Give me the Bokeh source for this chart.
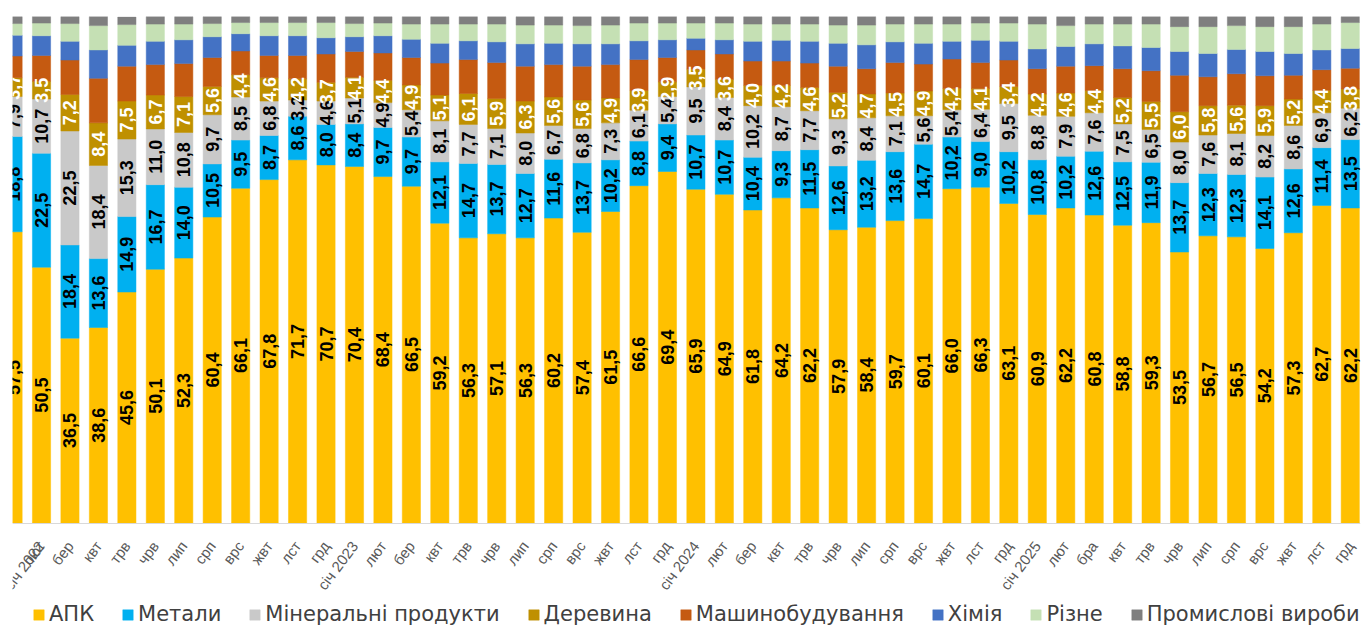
import math
from bokeh.plotting import figure
from bokeh.models import ColumnDataSource, FixedTicker, Legend, LegendItem, Range1d
from bokeh.core.properties import value
from bokeh.embed import file_html
from bokeh.resources import INLINE

months = ["січ 2022", "лют", "бер", "квт", "трв", "чрв", "лип", "срп", "врс", "жвт", "лст", "грд",
          "січ 2023", "лют", "бер", "квт", "трв", "чрв", "лип", "срп", "врс", "жвт", "лст", "грд",
          "січ 2024", "лют", "бер", "квт", "трв", "чрв", "лип", "срп", "врс", "жвт", "лст", "грд",
          "січ 2025", "лют", "бра", "квт", "трв", "чрв", "лип", "срп", "врс", "жвт", "лст", "грд"]

apk = [57.5, 50.5, 36.5, 38.6, 45.6, 50.1, 52.3, 60.4, 66.1, 67.8, 71.7, 70.7,
       70.4, 68.4, 66.5, 59.2, 56.3, 57.1, 56.3, 60.2, 57.4, 61.5, 66.6, 69.4,
       65.9, 64.9, 61.8, 64.2, 62.2, 57.9, 58.4, 59.7, 60.1, 66.0, 66.3, 63.1,
       60.9, 62.2, 60.8, 58.8, 59.3, 53.5, 56.7, 56.5, 54.2, 57.3, 62.7, 62.2]
metals = [18.8, 22.5, 18.4, 13.6, 14.9, 16.7, 14.0, 10.5, 9.5, 8.7, 8.6, 8.0,
          8.4, 9.7, 9.7, 12.1, 14.7, 13.7, 12.7, 11.6, 13.7, 10.2, 8.8, 9.4,
          10.7, 10.7, 10.4, 9.3, 11.5, 12.6, 13.2, 13.6, 14.7, 10.2, 9.0, 10.2,
          10.8, 10.2, 12.6, 12.5, 11.9, 13.7, 12.3, 12.3, 14.1, 12.6, 11.4, 13.5]
minerals = [7.9, 10.7, 22.5, 18.4, 15.3, 11.0, 10.8, 9.7, 8.5, 6.8, 3.2, 4.6,
            5.1, 4.9, 5.4, 8.1, 7.7, 7.1, 8.0, 6.7, 6.8, 7.3, 6.1, 5.4,
            9.5, 8.4, 10.2, 8.7, 7.7, 9.3, 8.4, 7.1, 5.6, 5.4, 6.4, 9.5,
            8.8, 7.9, 7.6, 7.5, 6.5, 8.0, 7.6, 8.1, 8.2, 8.6, 6.9, 6.2]
wood = [3.7, 3.5, 7.2, 8.4, 7.5, 6.7, 7.1, 5.6, 4.4, 4.6, 4.2, 3.7,
        4.1, 4.4, 4.9, 5.1, 6.1, 5.9, 6.3, 5.6, 5.6, 4.9, 3.9, 2.9,
        3.5, 3.6, 4.0, 4.2, 4.6, 5.2, 4.7, 4.5, 4.9, 4.2, 4.1, 3.4,
        4.2, 4.6, 4.4, 5.2, 5.5, 6.0, 5.8, 5.6, 5.9, 5.2, 4.4, 3.8]
machinery = [4.3, 5.1, 6.8, 8.8, 6.9, 6.0, 6.5, 5.7, 4.7, 4.4, 4.6, 5.6,
             5.1, 5.4, 5.4, 6.3, 6.7, 7.1, 6.9, 6.4, 6.7, 6.6, 6.1, 4.8,
             3.8, 5.0, 4.8, 4.8, 4.8, 5.2, 5.0, 6.0, 5.3, 5.8, 5.1, 5.2,
             5.0, 5.3, 4.9, 5.7, 6.1, 7.2, 5.7, 6.2, 5.9, 4.7, 4.1, 4.1]
chemistry = [4.1, 3.9, 3.7, 5.6, 4.1, 4.6, 4.7, 4.1, 3.4, 3.9, 3.9, 3.2,
             2.9, 3.4, 3.6, 3.9, 3.7, 4.1, 4.4, 4.2, 4.4, 4.1, 3.7, 3.5,
             2.3, 2.8, 3.9, 4.1, 4.3, 4.5, 4.7, 4.1, 4.1, 3.5, 4.4, 3.7,
             3.9, 3.9, 4.3, 4.5, 4.6, 4.7, 4.6, 4.8, 4.8, 4.3, 3.9, 3.9]
misc = [2.3, 2.5, 3.5, 4.8, 4.1, 3.4, 3.1, 2.6, 2.2, 2.6, 2.6, 3.0,
        2.6, 2.5, 3.0, 3.8, 3.3, 3.5, 3.7, 3.6, 3.6, 3.7, 3.5, 3.3,
        3.0, 3.3, 3.4, 3.2, 3.4, 3.6, 3.9, 3.5, 3.8, 3.4, 3.4, 3.6,
        4.9, 4.1, 3.9, 4.3, 4.6, 4.9, 5.3, 4.7, 4.9, 5.3, 5.1, 5.1]
industrial = [1.4, 1.3, 1.4, 1.8, 1.5, 1.5, 1.5, 1.4, 1.2, 1.2, 1.2, 1.2,
              1.4, 1.3, 1.5, 1.5, 1.5, 1.5, 1.7, 1.7, 1.8, 1.7, 1.3, 1.3,
              1.3, 1.3, 1.5, 1.5, 1.5, 1.7, 1.7, 1.5, 1.5, 1.5, 1.3, 1.3,
              1.5, 1.8, 1.5, 1.5, 1.5, 2.0, 2.0, 1.8, 2.0, 2.0, 1.5, 1.2]

series_names = ["АПК", "Метали", "Мінеральні продукти", "Деревина", "Машинобудування",
                "Хімія", "Різне", "Промислові вироби"]
series_colors = ["#FFC000", "#00B0F0", "#C9C9C9", "#BF9000", "#C55A11",
                 "#4472C4", "#C5E0B4", "#7F7F7F"]
series_values = [apk, metals, minerals, wood, machinery, chemistry, misc, industrial]
label_colors = ["#000000", "#000000", "#000000", "#FFFFFF"]

xs = list(range(len(months)))
keys = ["s%d" % i for i in range(len(series_values))]
data = {"x": xs}
for k, vals in zip(keys, series_values):
    data[k] = vals
src = ColumnDataSource(data)

p = figure(width=1368, height=627, x_range=Range1d(-0.02, 47.36), y_range=Range1d(-20.63, 100),
           output_backend="svg", toolbar_location=None,
           min_border_left=12, min_border_right=8, min_border_top=16, min_border_bottom=0)
p.outline_line_color = None
p.grid.visible = False
p.yaxis.visible = False

renderers = p.vbar_stack(keys, x="x", width=0.64, source=src,
                         fill_color=series_colors, line_color=series_colors, line_width=0.5)

# data labels for first four series
for si in range(4):
    lx, ly, lt = [], [], []
    for i in range(len(months)):
        base = sum(series_values[j][i] for j in range(si))
        v = series_values[si][i]
        lx.append(i)
        ly.append(base + v / 2.0)
        lt.append(("%.1f" % v).replace(".", ","))
    lsrc = ColumnDataSource(dict(x=lx, y=ly, t=lt))
    p.text(x="x", y="y", text="t", source=lsrc, angle=math.pi / 2,
           text_align="center", text_baseline="middle",
           text_font=value("Liberation Sans"), text_font_style="bold",
           text_font_size="18px", text_color=label_colors[si])

ax = p.xaxis[0]
ax.fixed_location = 0
ax.ticker = FixedTicker(ticks=xs)
ax.major_label_overrides = {i: m for i, m in zip(xs, months)}
ax.major_label_orientation = 0.93
ax.major_tick_line_color = None
ax.minor_tick_line_color = None
ax.axis_line_color = "#D9D9D9"
ax.major_label_text_font = "Liberation Sans"
ax.major_label_text_font_size = "15px"
ax.major_label_text_color = "#595959"
ax.major_label_standoff = 14

legend = Legend(items=[LegendItem(label=n, renderers=[r]) for n, r in zip(series_names, renderers)],
                orientation="horizontal", location=(20, 1),
                label_text_font="DejaVu Sans", label_text_font_size="21px",
                label_text_color="#404040", glyph_width=13, glyph_height=13,
                label_standoff=4, spacing=27, padding=0, margin=0,
                border_line_color=None, background_fill_alpha=0)
p.add_layout(legend)

open("out.html", "w").write(file_html(p, INLINE))
